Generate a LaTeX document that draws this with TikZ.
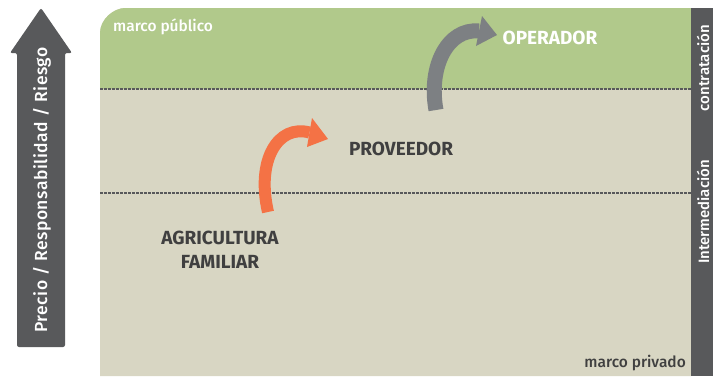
\documentclass[tikz,border=0pt]{standalone}
\usepackage{fontspec}
\setmainfont{Fira Sans}
\newfontfamily\medfont{Fira Sans Medium}
\newfontfamily\axisfont[LetterSpace=3]{Fira Sans Medium}
\usetikzlibrary{arrows.meta}
\definecolor{pubgreen}{HTML}{B1C98B}
\definecolor{privbeige}{HTML}{D8D6C3}
\definecolor{darkbar}{HTML}{58595B}
\definecolor{arrorange}{HTML}{F47245}
\definecolor{arrgray}{HTML}{7D8083}
\definecolor{txtdark}{HTML}{404040}
\begin{document}
\begin{tikzpicture}[x=1pt,y=-1pt,
  actor/.style={font=\fontsize{19}{24}\selectfont\bfseries, align=center, inner sep=0pt},
  frame/.style={font=\medfont\fontsize{15.5}{19}\selectfont, inner sep=0pt},
  bartext/.style={font=\medfont\fontsize{15}{18}\selectfont, text=white, rotate=90, inner sep=0pt},
  divider/.style={draw=darkbar, line width=1.1pt, dash pattern=on 2.6pt off 1.4pt},
  flow/.style={line width=#1, line cap=butt}]
\useasboundingbox (0,0) rectangle (713,376);
% main panel
\fill[privbeige] (100,376) -- (100,33) .. controls (100,19.2) and (113.8,8) .. (125,8) -- (691,8) -- (691,376) -- cycle;
\fill[pubgreen] (100,89) -- (100,33) .. controls (100,19.2) and (113.8,8) .. (125,8) -- (691,8) -- (691,89) -- cycle;
% right bar
\fill[darkbar] (691,8) rectangle (713,376);
% dividers
\coordinate (d1l) at (100,89); \coordinate (d1r) at (691,89);
\coordinate (d2l) at (100,193); \coordinate (d2r) at (691,193);
\draw[divider] (d1l) -- (d1r);
\draw[divider] (d2l) -- (d2r);
% left arrow
\fill[darkbar, rounded corners=2pt] (17,347) -- (17,53) -- (10,53) -- (41,8) -- (72,53) -- (65,53) -- (65,347) -- cycle;
\node[font=\axisfont\fontsize{17.5}{20}\selectfont, text=white, rotate=90, inner sep=0pt] (axis) at (42,190) {Precio / Responsabilidad / Riesgo};
% frame labels
\node[frame, text=white, anchor=base west] (pub) at (113,31) {marco público};
\node[frame, text=txtdark, anchor=base east] (priv) at (686,367) {marco privado};
% bar labels
\node[bartext] (contr) at (703,68) {contratación};
\node[bartext] (inter) at (703,212) {Intermediación};
% actors
\node[actor, text=white] (oper) at (550,38) {OPERADOR};
\node[actor, text=txtdark] (prov) at (401,149) {PROVEEDOR};
\node[actor, text=txtdark] (agri) at (220,250) {AGRICULTURA\\FAMILIAR};
% orange flow
\coordinate (o0) at (268,212);
\coordinate (o1) at (309.5,132.5);
\draw[flow=12pt, arrorange] (o0) .. controls (256,160) and (278,124) .. (o1);
\fill[arrorange] (312,118) -- (328,139) -- (307,147) -- cycle;
% gray flow
\coordinate (g0) at (436,110);
\coordinate (g1) at (479,31);
\draw[flow=15pt, arrgray] (g0) .. controls (428,66) and (448,28) .. (g1);
\fill[arrgray] (482,16) -- (497,35) -- (476,46) -- cycle;
\end{tikzpicture}
\end{document}
